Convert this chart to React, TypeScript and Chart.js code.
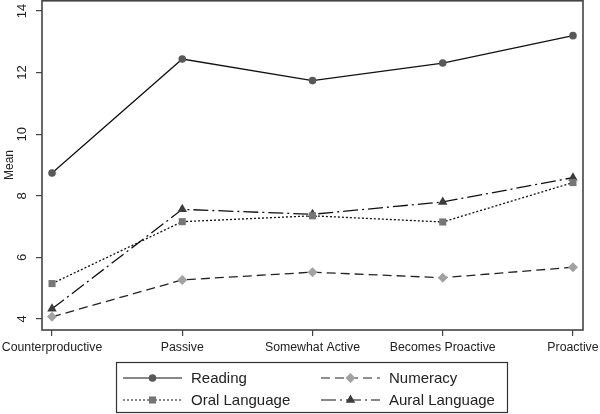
import React, { useEffect, useRef } from 'react';
import { Chart, registerables } from 'chart.js';

Chart.register(...registerables);

const categories = ['Counterproductive', 'Passive', 'Somewhat Active', 'Becomes Proactive', 'Proactive'];
const reading = [8.74, 12.44, 11.74, 12.31, 13.2];
const numeracy = [4.07, 5.27, 5.52, 5.34, 5.68];
const oralLanguage = [5.15, 7.16, 7.35, 7.15, 8.43];
const auralLanguage = [4.33, 7.56, 7.4, 7.8, 8.59];
const yTickValues = [4, 6, 8, 10, 12, 14];
const seriesNames = ['Reading', 'Numeracy', 'Oral Language', 'Aural Language'];

const FONT = '"Liberation Sans", Arial, sans-serif';

type Style = { dash: number[]; line: string; marker: string; shape: string; r: number };
const styles: Style[] = [
  { dash: [], line: '#111', marker: '#585858', shape: 'circle', r: 3.8 },
  { dash: [9, 5], line: '#222', marker: '#a2a2a2', shape: 'rectRot', r: 5 },
  { dash: [2, 2], line: '#111', marker: '#767676', shape: 'rect', r: 5 },
  { dash: [15, 4, 2, 4], line: '#111', marker: '#3c3c3c', shape: 'triangle', r: 5.5 },
];

function drawMarker(ctx: CanvasRenderingContext2D, shape: string, x: number, y: number, r: number, color: string) {
  ctx.save();
  ctx.fillStyle = color;
  ctx.setLineDash([]);
  ctx.beginPath();
  if (shape === 'circle') {
    ctx.arc(x, y, r, 0, Math.PI * 2);
  } else if (shape === 'rect') {
    const s = r * Math.SQRT1_2;
    ctx.rect(x - s, y - s, 2 * s, 2 * s);
  } else if (shape === 'rectRot') {
    ctx.moveTo(x, y - r);
    ctx.lineTo(x + r, y);
    ctx.lineTo(x, y + r);
    ctx.lineTo(x - r, y);
    ctx.closePath();
  } else if (shape === 'triangle') {
    for (let k = 0; k < 3; k++) {
      const a = (k * 2 * Math.PI) / 3;
      const px = x + Math.sin(a) * r;
      const py = y - Math.cos(a) * r;
      if (k === 0) ctx.moveTo(px, py);
      else ctx.lineTo(px, py);
    }
    ctx.closePath();
  }
  ctx.fill();
  ctx.restore();
}

const boxPlugin = {
  id: 'plotBox',
  afterDatasetsDraw(chart: any) {
    const { ctx, chartArea } = chart;
    ctx.save();
    ctx.strokeStyle = '#444';
    ctx.lineWidth = 1.6;
    ctx.setLineDash([]);
    ctx.strokeRect(chartArea.left, chartArea.top + 0.8, chartArea.right - chartArea.left, chartArea.bottom - chartArea.top - 0.8);
    ctx.restore();
  },
};

const legendPlugin = {
  id: 'customLegend',
  afterDraw(chart: any) {
    const ctx: CanvasRenderingContext2D = chart.ctx;
    ctx.save();
    ctx.strokeStyle = '#333';
    ctx.lineWidth = 1.2;
    ctx.setLineDash([]);
    ctx.strokeRect(116.5, 362.5, 391, 50);
    const cols = [123, 321];
    const rows = [378, 400];
    const order = [0, 1, 2, 3];
    order.forEach((i, k) => {
      const x0 = cols[k % 2];
      const y = rows[Math.floor(k / 2)];
      const st = styles[i];
      ctx.save();
      ctx.strokeStyle = st.line;
      ctx.lineWidth = 1.2;
      ctx.setLineDash(st.dash);
      ctx.beginPath();
      ctx.moveTo(x0, y);
      ctx.lineTo(x0 + 59, y);
      ctx.stroke();
      ctx.restore();
      drawMarker(ctx, st.shape, x0 + 29.5, y, st.r, st.marker);
      ctx.fillStyle = '#222';
      ctx.font = '15px ' + FONT;
      ctx.textBaseline = 'middle';
      ctx.textAlign = 'left';
      ctx.fillText(seriesNames[i], x0 + 68, y + 1);
    });
    ctx.restore();
  },
};

export default function App() {
  const ref = useRef<HTMLCanvasElement>(null);
  useEffect(() => {
    document.body.style.margin = '0';
    const values = [reading, numeracy, oralLanguage, auralLanguage];
    const chart = new Chart(ref.current as HTMLCanvasElement, {
      type: 'line',
      data: {
        datasets: values.map((vals, i) => ({
          label: seriesNames[i],
          data: vals.map((v, j) => ({ x: j, y: v })),
          borderColor: styles[i].line,
          borderWidth: 1.3,
          borderDash: styles[i].dash,
          pointStyle: styles[i].shape as any,
          pointRadius: styles[i].r,
          pointBackgroundColor: styles[i].marker,
          pointBorderWidth: 0,
          pointBorderColor: styles[i].marker,
          tension: 0,
          fill: false,
        })),
      },
      options: {
        animation: false,
        responsive: false,
        maintainAspectRatio: false,
        layout: { autoPadding: false, padding: { left: 0, right: 17, top: 0, bottom: 0 } },
        plugins: { legend: { display: false }, tooltip: { enabled: false } },
        scales: {
          x: {
            type: 'linear',
            min: -0.077,
            max: 4.077,
            afterBuildTicks: (scale: any) => {
              scale.ticks = categories.map((_, j) => ({ value: j }));
            },
            afterFit: (scale: any) => {
              scale.height = 84;
              scale.paddingLeft = 0;
              scale.paddingRight = 0;
            },
            grid: { display: true, drawOnChartArea: false, drawTicks: true, tickLength: 6, color: '#444', lineWidth: 1.2 },
            border: { display: false },
            ticks: {
              autoSkip: false,
              maxRotation: 0,
              minRotation: 0,
              padding: 4,
              color: '#222',
              font: { family: FONT, size: 12.3 },
              callback: (v: any) => categories[v as number] ?? '',
            },
          },
          y: {
            type: 'linear',
            min: 3.643,
            max: 14.357,
            afterBuildTicks: (scale: any) => {
              scale.ticks = yTickValues.map((v) => ({ value: v }));
            },
            afterFit: (scale: any) => {
              scale.width = 42;
              scale.paddingTop = 0;
              scale.paddingBottom = 0;
            },
            grid: { display: true, drawOnChartArea: false, drawTicks: true, tickLength: 6, color: '#444', lineWidth: 1.2 },
            border: { display: false },
            title: {
              display: true,
              text: 'Mean',
              color: '#222',
              font: { family: FONT, size: 12 },
              padding: { top: 2, bottom: 0 },
            },
            ticks: {
              minRotation: 90,
              maxRotation: 90,
              crossAlign: 'center',
              padding: 6,
              color: '#222',
              font: { family: FONT, size: 13 },
              callback: (v: any) => String(v),
            },
          },
        },
      },
      plugins: [boxPlugin, legendPlugin],
    });
    return () => chart.destroy();
  }, []);
  return (
    <div style={{ width: 600, height: 414, background: '#fff' }}>
      <canvas ref={ref} width={600} height={414} style={{ display: 'block', width: 600, height: 414 }} />
    </div>
  );
}
